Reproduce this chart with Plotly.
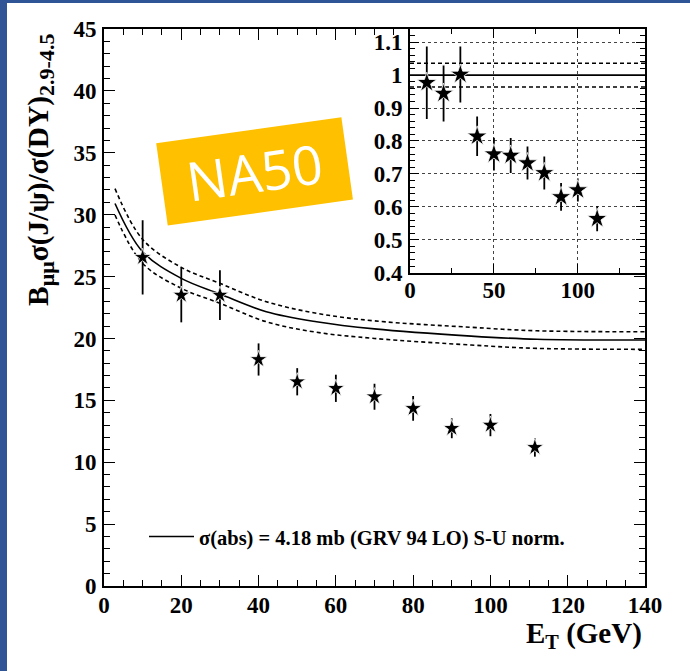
import plotly.graph_objects as go

# J/psi over Drell-Yan ratio vs transverse energy (NA50, S-U normalisation)
et = [10, 20, 30, 40, 50, 60, 70, 80, 90, 100, 111.5]
ratio = [26.55, 23.5, 23.5, 18.3, 16.5, 15.97, 15.29, 14.35, 12.74, 13.0, 11.2]
ratio_err = [3.0, 2.2, 2.0, 1.3, 1.1, 1.1, 1.05, 1.0, 0.8, 0.9, 0.75]

# measured / expected (inset)
rel = [0.977, 0.944, 1.002, 0.814, 0.760, 0.756, 0.733, 0.703, 0.630, 0.651, 0.564]
rel_err = [0.11, 0.085, 0.085, 0.06, 0.05, 0.053, 0.05, 0.05, 0.042, 0.035, 0.038]

# normal nuclear absorption expectation and its uncertainty band
curve_et = [2.85, 10, 20, 30, 42, 55, 70, 95, 112, 140]
curve_mid = [30.9, 27.0, 24.85, 23.59, 22.16, 21.35, 20.77, 20.19, 19.93, 19.87]
curve_hi = [32.1, 28.0, 25.74, 24.45, 22.97, 22.03, 21.42, 20.9, 20.62, 20.54]
curve_lo = [29.97, 26.07, 24.05, 22.84, 21.35, 20.5, 20.0, 19.47, 19.2, 19.12]

inset_et = [0, 140]
inset_mid = [1.0, 1.0]
inset_hi = [1.036, 1.036]
inset_lo = [0.964, 0.964]

legend_label = "σ(abs) = 4.18 mb (GRV 94 LO) S-U norm."

W, H = 690, 671
SERIF = "Liberation Serif"
BLUE = "#2F5597"


def px(x):
    return x / W


def py(y):
    return (H - y) / H


fig = go.Figure()

dash = "4px,3px"
fig.add_trace(go.Scatter(x=curve_et, y=curve_hi, mode="lines", line=dict(color="black", width=1.6, dash=dash, shape="spline"),
                         showlegend=False, xaxis="x", yaxis="y"))
fig.add_trace(go.Scatter(x=curve_et, y=curve_lo, mode="lines", line=dict(color="black", width=1.6, dash=dash, shape="spline"),
                         showlegend=False, xaxis="x", yaxis="y"))
fig.add_trace(go.Scatter(x=curve_et, y=curve_mid, mode="lines", line=dict(color="black", width=1.6, shape="spline"),
                         name=legend_label, showlegend=True, xaxis="x", yaxis="y"))
fig.add_trace(go.Scatter(x=et, y=ratio, mode="markers",
                         marker=dict(symbol="star", size=13, color="black", line=dict(color="white", width=0.8)),
                         error_y=dict(type="data", array=ratio_err, width=0, thickness=1.8, color="black"),
                         showlegend=False, xaxis="x", yaxis="y"))

# inset
fig.add_trace(go.Scatter(x=inset_et, y=inset_hi, mode="lines", line=dict(color="black", width=1.6, dash=dash),
                         showlegend=False, xaxis="x2", yaxis="y2"))
fig.add_trace(go.Scatter(x=inset_et, y=inset_lo, mode="lines", line=dict(color="black", width=1.6, dash=dash),
                         showlegend=False, xaxis="x2", yaxis="y2"))
fig.add_trace(go.Scatter(x=inset_et, y=inset_mid, mode="lines", line=dict(color="black", width=1.6),
                         showlegend=False, xaxis="x2", yaxis="y2"))
fig.add_trace(go.Scatter(x=et, y=rel, mode="markers",
                         marker=dict(symbol="star", size=15, color="black", line=dict(color="white", width=0.8)),
                         error_y=dict(type="data", array=rel_err, width=0, thickness=1.8, color="black"),
                         showlegend=False, xaxis="x2", yaxis="y2"))

tickfont = dict(family=SERIF, size=23, color="black", weight="bold")
common = dict(showline=True, linecolor="black", linewidth=2, mirror="ticks", ticks="inside",
              tickcolor="black", tickwidth=1.2, showgrid=False, zeroline=False, tickfont=tickfont)

fig.update_layout(
    width=W, height=H,
    margin=dict(l=0, r=0, t=0, b=0, autoexpand=False),
    paper_bgcolor="white", plot_bgcolor="white",
    xaxis=dict(domain=[px(104), px(645)], range=[0, 140], dtick=20, ticklen=11,
               minor=dict(dtick=5, ticklen=6, ticks="inside", tickcolor="black", tickwidth=1.2),
               ticklabelstandoff=-3, anchor="y", **common),
    yaxis=dict(domain=[py(586), py(29)], range=[0, 45], dtick=5, ticklen=11,
               minor=dict(dtick=1, ticklen=6, ticks="inside", tickcolor="black", tickwidth=1.2),
               ticklabelstandoff=1, anchor="x", **common),
    xaxis2=dict(domain=[px(410), px(645)], range=[0, 140], dtick=50, ticklen=9,
                minor=dict(dtick=25, ticklen=5, ticks="inside", tickcolor="black", tickwidth=1.2),
                anchor="y2", ticklabelstandoff=-4,
                **{**common, "showgrid": True}, gridcolor="#444", griddash="dot", gridwidth=1),
    yaxis2=dict(domain=[py(272.7), py(29)], range=[0.4, 1.14], dtick=0.1, tick0=0.4, ticklen=9,
                minor=dict(dtick=0.02, ticklen=5, ticks="inside", tickcolor="black", tickwidth=1.2),
                anchor="x2", ticklabelstandoff=1,
                **{**common, "showgrid": True}, gridcolor="#444", griddash="dot", gridwidth=1),
    legend=dict(x=px(144), y=py(536.7), xanchor="left", yanchor="middle", bgcolor="rgba(0,0,0,0)",
                itemwidth=45,
                font=dict(family=SERIF, size=20.5, color="black", weight="bold"), borderwidth=0),
    showlegend=True,
)

# axis titles
fig.add_annotation(text="E<sub>T</sub> (GeV)", x=px(644), y=py(655), xref="paper", yref="paper",
                   xanchor="right", yanchor="bottom", showarrow=False,
                   font=dict(family=SERIF, size=29, color="black", weight="bold"))
fig.add_annotation(
    text=("B<sub><span style='font-size:22px'>μμ</span></sub>σ(J/ψ)/σ(DY)"
          "<sub><span style='font-size:22px'>2.9-4.5</span></sub>"),
    x=px(41), y=py(32), xref="paper", yref="paper", xanchor="center", yanchor="top", textangle=-90,
    showarrow=False, font=dict(family=SERIF, size=29.5, color="black", weight="bold"))

# experiment tag
fig.add_annotation(text="NA50", x=px(254), y=py(171), xref="paper", yref="paper",
                   xanchor="center", yanchor="middle", textangle=-8, showarrow=False,
                   width=187, height=83, borderpad=0, borderwidth=0, bgcolor="#FFC000",
                   font=dict(family="Open Sans", size=54, color="white"))

# slide frame strips
fig.add_shape(type="rect", xref="paper", yref="paper", x0=0, x1=px(7), y0=0, y1=1,
              fillcolor=BLUE, line=dict(width=0), layer="above")
fig.add_shape(type="rect", xref="paper", yref="paper", x0=0, x1=1, y0=py(3), y1=1,
              fillcolor=BLUE, line=dict(width=0), layer="above")

page_css = ("document.documentElement.style.margin='0';document.body.style.margin='0';"
            "document.documentElement.style.overflow='hidden';document.body.style.overflow='hidden';")
fig.write_html("out.html", post_script=page_css)
